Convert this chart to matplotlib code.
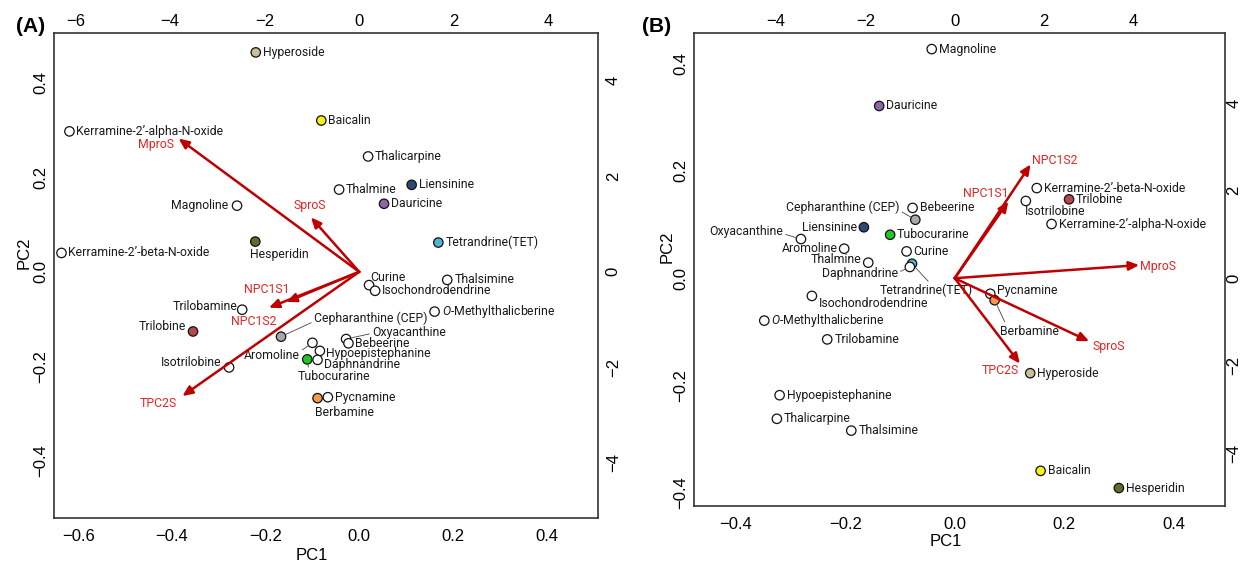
import matplotlib
matplotlib.use('Agg')
import matplotlib.pyplot as plt
from matplotlib.patches import FancyArrowPatch

plt.rcParams['font.family'] = ['Roboto', 'DejaVu Sans']
plt.rcParams['mathtext.fontset'] = 'custom'
plt.rcParams['mathtext.it'] = 'Roboto:italic'
plt.rcParams['mathtext.rm'] = 'Roboto'
TICK_FONT = ['Liberation Sans Narrow', 'Liberation Sans', 'DejaVu Sans']

# Fill colours of the highlighted compounds (all others are open circles)
compound_colors = {
    'Hyperoside': '#c9c09a',
    'Baicalin': '#f7f01c',
    'Liensinine': '#2d4a75',
    'Dauricine': '#8a68a8',
    'Hesperidin': '#5c6e2e',
    'Tetrandrine(TET)': '#4db5d6',
    'Trilobine': '#b5484a',
    'Cepharanthine (CEP)': '#a8a8a8',
    'Tubocurarine': '#22c822',
    'Berbamine': '#f2994a',
}

# ---- Panel A: scores (PC1, PC2) ----
names_a = ['Hyperoside', 'Baicalin', 'Kerramine-2\u2019-alpha-N-oxide', 'Thalicarpine',
           'Liensinine', 'Thalmine', 'Dauricine', 'Magnoline', 'Hesperidin',
           'Tetrandrine(TET)', 'Kerramine-2\u2019-beta-N-oxide', 'Curine',
           'Isochondrodendrine', 'Thalsimine', 'O-Methylthalicberine', 'Trilobamine',
           'Trilobine', 'Cepharanthine (CEP)', 'Oxyacanthine', 'Bebeerine', 'Aromoline',
           'Hypoepistephanine', 'Tubocurarine', 'Daphnandrine', 'Isotrilobine',
           'Berbamine', 'Pycnamine']
pc1_a = [-0.221, -0.081, -0.619, 0.019, 0.112, -0.043, 0.053, -0.261, -0.222,
         0.169, -0.636, 0.021, 0.034, 0.188, 0.161, -0.250, -0.355, -0.167,
         -0.028, -0.023, -0.100, -0.084, -0.111, -0.089, -0.278, -0.089, -0.067]
pc2_a = [0.464, 0.320, 0.297, 0.244, 0.184, 0.174, 0.144, 0.140, 0.064,
         0.062, 0.040, -0.028, -0.040, -0.017, -0.084, -0.080, -0.126, -0.137,
         -0.142, -0.151, -0.150, -0.167, -0.185, -0.186, -0.202, -0.267, -0.265]
# loadings (top / right axis units)
vars_a = ['MproS', 'SproS', 'NPC1S1', 'NPC1S2', 'TPC2S']
load1_a = [-3.82, -1.02, -1.54, -1.91, -3.74]
load2_a = [2.79, 1.14, -0.63, -0.75, -2.60]

# ---- Panel B ----
names_b = ['Magnoline', 'Dauricine', 'Kerramine-2\u2019-beta-N-oxide', 'Trilobine',
           'Isotrilobine', 'Kerramine-2\u2019-alpha-N-oxide', 'Bebeerine',
           'Cepharanthine (CEP)', 'Liensinine', 'Tubocurarine', 'Oxyacanthine',
           'Aromoline', 'Curine', 'Thalmine', 'Tetrandrine(TET)', 'Daphnandrine',
           'Isochondrodendrine', 'O-Methylthalicberine', 'Trilobamine', 'Pycnamine',
           'Berbamine', 'Hyperoside', 'Hypoepistephanine', 'Thalicarpine',
           'Thalsimine', 'Baicalin', 'Hesperidin']
pc1_b = [-0.042, -0.138, 0.150, 0.209, 0.130, 0.177, -0.077, -0.072, -0.166,
         -0.118, -0.281, -0.202, -0.088, -0.158, -0.078, -0.082, -0.261, -0.348,
         -0.233, 0.065, 0.073, 0.138, -0.320, -0.325, -0.189, 0.157, 0.300]
pc2_b = [0.427, 0.321, 0.168, 0.147, 0.144, 0.101, 0.131, 0.109, 0.095,
         0.081, 0.073, 0.055, 0.050, 0.029, 0.027, 0.021, -0.033, -0.079,
         -0.114, -0.029, -0.041, -0.177, -0.218, -0.262, -0.284, -0.359, -0.391]
vars_b = ['NPC1S2', 'NPC1S1', 'MproS', 'SproS', 'TPC2S']
load1_b = [1.70, 1.20, 4.13, 3.01, 1.46]
load2_b = [2.60, 1.75, 0.30, -1.44, -1.95]

# label placement: name -> (dx px, dy px, ha[, leader relpos])
offsets_a = {
    'Magnoline': (-9, 0, 'right'),
    'Hesperidin': (-5, -13, 'left'),
    'Curine': (1, 8, 'left'),
    'Trilobamine': (-5, 3, 'right'),
    'Trilobine': (-7, 5, 'right'),
    'Cepharanthine (CEP)': (33, 18, 'left', (0, 0.3)),
    'Oxyacanthine': (26, 7, 'left', (0, 0.4)),
    'Aromoline': (-13, -13, 'right', (1, 0.8)),
    'Hypoepistephanine': (6, -3, 'left'),
    'Tubocurarine': (-9.5, -17, 'left', (0.15, 1)),
    'Daphnandrine': (6, -5, 'left'),
    'Isotrilobine': (-7.5, 5, 'right'),
    'Berbamine': (-3, -14, 'left'),
}
offsets_b = {
    'Isotrilobine': (-1, -11, 'left'),
    'Cepharanthine (CEP)': (-16, 12, 'right', (1, 0.3)),
    'Liensinine': (-7, 0, 'right'),
    'Oxyacanthine': (-18, 8, 'right', (1, 0.3)),
    'Aromoline': (-6.5, 0, 'right'),
    'Thalmine': (-6.5, 3, 'right'),
    'Tetrandrine(TET)': (14, -27, 'center', (0.55, 1)),
    'Daphnandrine': (-12, -7, 'right', (1, 0.6)),
    'Isochondrodendrine': (7, -8, 'left'),
    'Pycnamine': (7, 3, 'left'),
    'Berbamine': (5.5, -31, 'left', (0.1, 1)),
}
var_offsets_a = {'MproS': (-23, -6), 'SproS': (-1, 12), 'NPC1S1': (-20, 12),
                 'NPC1S2': (-15, -14), 'TPC2S': (-24, -7)}
var_offsets_b = {'NPC1S2': (24, 4), 'NPC1S1': (-23, 8), 'MproS': (19, -1),
                 'SproS': (20, -5), 'TPC2S': (-20, -7)}

W, H = 1245, 563
fig = plt.figure(figsize=(W / 100, H / 100), dpi=100)


def px_rect(left, top, right, bottom):
    return [left / W, 1 - bottom / H, (right - left) / W, (bottom - top) / H]


def fmt(v, nd):
    return f'{v:.{nd}f}'.replace('-', '\u2212')


def label_text(name):
    if name.startswith('O-'):
        return r'$\mathit{O}$' + name[1:]
    return name


def draw_panel(rect, names, pc1, pc2, var_names, load1, load2, xlim, ylim, ratio,
               xticks, yticks, top_ticks, right_ticks, offsets, var_offsets,
               xlabel_y, ylabel_x, right_pad):
    ax = fig.add_axes(rect)
    ax.set_xlim(xlim)
    ax.set_ylim(ylim)
    colors = [compound_colors.get(n, 'white') for n in names]
    ax.scatter(pc1, pc2, s=46, c=colors, edgecolors='#111111', linewidths=0.9, zorder=3)
    for n, x, y in zip(names, pc1, pc2):
        spec = offsets.get(n, (7, 0, 'left'))
        dx, dy, ha = spec[:3]
        arrowprops = None
        if len(spec) > 3:
            arrowprops = dict(arrowstyle='-', color='#444444', lw=0.6,
                              shrinkA=0, shrinkB=3.5, relpos=spec[3])
        ax.annotate(label_text(n), (x, y), xytext=(dx, dy), textcoords='offset pixels',
                    ha=ha, va='center', fontsize=8.8, color='#1a1a1a',
                    arrowprops=arrowprops, zorder=4)

    ax.set_xticks(xticks, [fmt(v, 1) for v in xticks], fontfamily=TICK_FONT, fontsize=12)
    ax.set_yticks(yticks, [fmt(v, 1) for v in yticks], fontfamily=TICK_FONT, fontsize=12,
                  rotation=90, va='center')
    ax.tick_params(length=0)
    ax.tick_params(axis='x', pad=8)
    ax.tick_params(axis='y', pad=4)
    for s in ax.spines.values():
        s.set_linewidth(1.2)
        s.set_color('#333333')
    ax.set_xlabel('PC1', fontfamily=TICK_FONT, fontsize=12)
    ax.set_ylabel('PC2', fontfamily=TICK_FONT, fontsize=12)
    ax.xaxis.set_label_coords(0.475, xlabel_y)
    ax.yaxis.set_label_coords(ylabel_x, 0.548)

    # loadings on their own scale (top and right axes)
    ax2 = fig.add_axes(rect, label='loadings')
    ax2.patch.set_visible(False)
    for s in ax2.spines.values():
        s.set_visible(False)
    ax2.set_xlim(xlim[0] * ratio, xlim[1] * ratio)
    ax2.set_ylim(ylim[0] * ratio, ylim[1] * ratio)
    ax2.xaxis.tick_top()
    ax2.yaxis.tick_right()
    ax2.set_xticks(top_ticks, [fmt(v, 0) for v in top_ticks], fontfamily=TICK_FONT, fontsize=12)
    ax2.set_yticks(right_ticks, [fmt(v, 0) for v in right_ticks], fontfamily=TICK_FONT,
                   fontsize=12, rotation=90, va='center')
    ax2.tick_params(length=0)
    ax2.tick_params(axis='x', pad=3)
    ax2.tick_params(axis='y', pad=right_pad)
    for v, u, w in zip(var_names, load1, load2):
        ax2.add_patch(FancyArrowPatch((0, 0), (u, w),
                                      arrowstyle='-|>,head_length=0.5,head_width=0.22',
                                      mutation_scale=12, color='#c00000', lw=1.8,
                                      shrinkA=0, shrinkB=0, zorder=5))
        dx, dy = var_offsets[v]
        ax2.annotate(v, (u, w), xytext=(dx, dy), textcoords='offset pixels',
                     ha='center', va='center', color='#e32525', fontsize=8.8)
    return ax


draw_panel(px_rect(54, 33, 597.5, 518.3), names_a, pc1_a, pc2_a, vars_a, load1_a, load2_a,
           (-0.652, 0.509), (-0.521, 0.505), 9.9,
           [-0.6, -0.4, -0.2, 0.0, 0.2, 0.4], [-0.4, -0.2, 0.0, 0.2, 0.4],
           [-6, -4, -2, 0, 2, 4], [-4, -2, 0, 2, 4], offsets_a, var_offsets_a,
           -0.062, -0.042, 6)
draw_panel(px_rect(693.7, 33, 1225, 506), names_b, pc1_b, pc2_b, vars_b, load1_b, load2_b,
           (-0.477, 0.494), (-0.4245, 0.457), 12.25,
           [-0.4, -0.2, 0.0, 0.2, 0.4], [-0.4, -0.2, 0.0, 0.2, 0.4],
           [-4, -2, 0, 2, 4], [-4, -2, 0, 2, 4], offsets_b, var_offsets_b,
           -0.06, -0.036, 1)

fig.text(31 / W, 1 - 26 / H, '(A)', ha='center', va='center', fontsize=15,
         fontweight='bold', fontfamily=['Liberation Sans', 'DejaVu Sans'])
fig.text(657 / W, 1 - 26 / H, '(B)', ha='center', va='center', fontsize=15,
         fontweight='bold', fontfamily=['Liberation Sans', 'DejaVu Sans'])

fig.savefig('out.png', dpi=100)
